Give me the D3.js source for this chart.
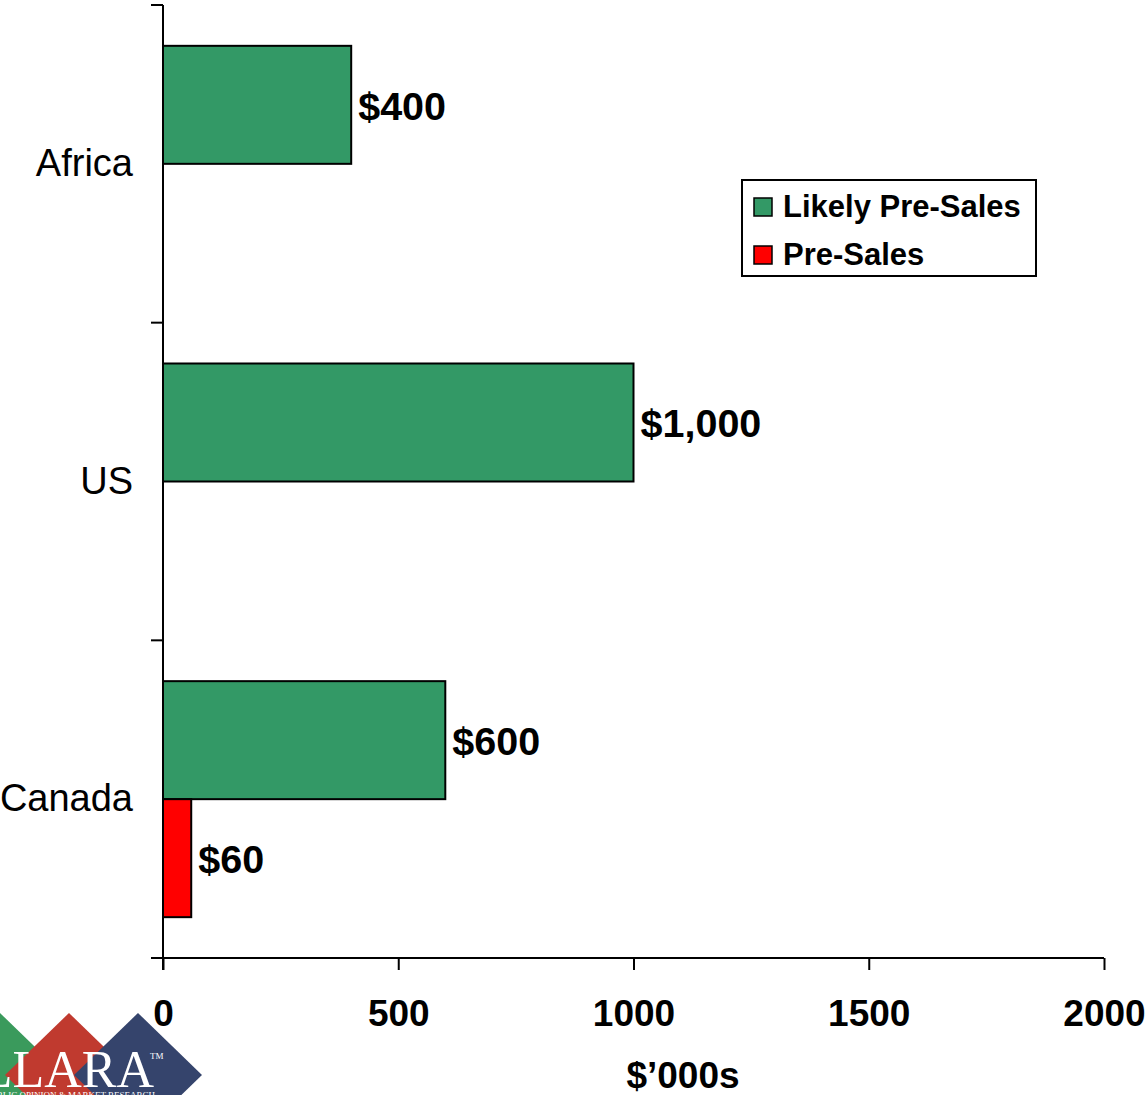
<!DOCTYPE html>
<html>
<head>
<meta charset="utf-8">
<script src="https://cdn.jsdelivr.net/npm/d3@7/dist/d3.min.js"></script>
<style>
  html, body { margin: 0; padding: 0; background: #fff; }
  svg { display: block; }
</style>
</head>
<body>
<svg id="chart" width="1147" height="1095" font-family="Arial, 'Liberation Sans', sans-serif"></svg>
<script>
// ---- data ----
const categories = ["Africa", "US", "Canada"];
const seriesNames = ["Likely Pre-Sales", "Pre-Sales"];
const likelyPreSales = [400, 1000, 600];
const preSales = [0, 0, 60];
const xTicks = [0, 500, 1000, 1500, 2000];
const axisTitle = "$\u2019000s";
const seriesColors = ["#339966", "#FF0000"];

const svg = d3.select("#chart");

const x = d3.scaleLinear().domain([0, 2000]).range([163, 1104]);
const y = d3.scaleBand().domain(categories).range([5, 958]).paddingInner(0).paddingOuter(0);
const ySub = d3.scaleBand().domain(seriesNames).range([0, y.bandwidth()]).paddingInner(0).paddingOuter(0.346);
const color = d3.scaleOrdinal().domain(seriesNames).range(seriesColors);

const rows = [];
categories.forEach((c, i) => {
  rows.push({cat: c, series: seriesNames[0], value: likelyPreSales[i]});
  rows.push({cat: c, series: seriesNames[1], value: preSales[i]});
});
const fmt = v => "$" + d3.format(",")(v);

// bars
svg.append("g").selectAll("rect")
  .data(rows.filter(d => d.value > 0))
  .join("rect")
  .attr("x", x(0))
  .attr("y", d => y(d.cat) + ySub(d.series))
  .attr("width", d => x(d.value) - x(0))
  .attr("height", ySub.bandwidth())
  .attr("fill", d => color(d.series))
  .attr("stroke", "#000")
  .attr("stroke-width", 2);

// value labels
svg.append("g").selectAll("text")
  .data(rows.filter(d => d.value > 0))
  .join("text")
  .attr("x", d => x(d.value) + 7)
  .attr("y", d => y(d.cat) + ySub(d.series) + ySub.bandwidth() / 2 + 15)
  .attr("font-size", 39.5)
  .attr("font-weight", "bold")
  .attr("fill", "#000")
  .text(d => fmt(d.value));

// x axis
const xAxis = d3.axisBottom(x).tickValues(xTicks).tickSize(12).tickSizeOuter(0).tickPadding(30).tickFormat(d3.format("d"));
const gx = svg.append("g").attr("transform", "translate(0,958)").call(xAxis);
gx.select(".domain").remove();
gx.append("line").attr("x1", 151).attr("x2", 1104).attr("y1", 0).attr("y2", 0).attr("stroke", "#000").attr("stroke-width", 2);
gx.selectAll(".tick line").attr("stroke", "#000").attr("stroke-width", 2);
gx.selectAll(".tick text")
  .attr("font-size", 37).attr("font-weight", "bold").attr("fill", "#000")
  .attr("font-family", "Arial, 'Liberation Sans', sans-serif")
  .attr("dy", null).attr("y", 68);

// y axis: ticks at category boundaries
const boundaries = categories.map(c => y(c)).concat([y.range()[1]]);
const gy = svg.append("g");
gy.append("line").attr("x1", x(0)).attr("x2", x(0)).attr("y1", 5).attr("y2", 970).attr("stroke", "#000").attr("stroke-width", 2);
gy.selectAll("line.tk").data(boundaries.slice(0, 3)).join("line").attr("class", "tk")
  .attr("x1", 151).attr("x2", x(0)).attr("y1", d => d).attr("y2", d => d)
  .attr("stroke", "#000").attr("stroke-width", 2);
gy.selectAll("text").data(categories).join("text")
  .attr("x", 133)
  .attr("y", d => y(d) + y.bandwidth() / 2 + 12)
  .attr("text-anchor", "end")
  .attr("font-size", 38)
  .attr("fill", "#000")
  .text(d => d);

// axis title
svg.append("text").attr("x", 683).attr("y", 1088).attr("text-anchor", "middle")
  .attr("font-size", 37).attr("font-weight", "bold").text(axisTitle);

// legend
const lg = svg.append("g");
lg.append("rect").attr("x", 742).attr("y", 180).attr("width", 294).attr("height", 96)
  .attr("fill", "#fff").attr("stroke", "#000").attr("stroke-width", 2);
seriesNames.forEach((s, i) => {
  lg.append("rect").attr("x", 754).attr("y", 198 + i * 48).attr("width", 18).attr("height", 18)
    .attr("fill", color(s)).attr("stroke", "#000").attr("stroke-width", 1.5);
  lg.append("text").attr("x", 783).attr("y", 217 + i * 48)
    .attr("font-size", 31).attr("font-weight", "bold").text(s);
});

// logo
const logo = svg.append("g");
const diamond = (cx, cy, hw, hh) => `M${cx},${cy - hh} L${cx + hw},${cy} L${cx},${cy + hh} L${cx - hw},${cy} Z`;
[[0, "#3a9a5c"], [69, "#c03a2f"], [138, "#35446c"]].forEach(([cx, c]) => {
  logo.append("path").attr("d", diamond(cx, 1075, 64, 62)).attr("fill", c);
});
const serif = "'Liberation Serif', 'Times New Roman', serif";
logo.append("text").attr("x", 154).attr("y", 1087).attr("text-anchor", "end")
  .attr("font-family", serif)
  .attr("font-size", 52).attr("fill", "#fff").text("ALLARA");
logo.append("text").attr("x", 150).attr("y", 1059)
  .attr("font-family", serif)
  .attr("font-size", 9).attr("fill", "#fff").text("TM");
logo.append("text").attr("x", 155).attr("y", 1098).attr("text-anchor", "end")
  .attr("font-family", serif)
  .attr("font-size", 9).attr("fill", "#fff").text("PUBLIC OPINION & MARKET RESEARCH");
</script>
</body>
</html>
